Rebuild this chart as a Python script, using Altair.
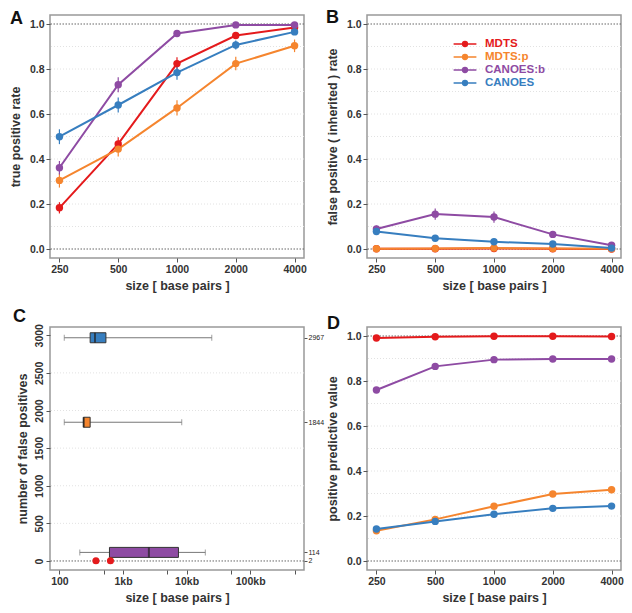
import altair as alt
import pandas as pd

# ---------------- data ----------------
sizes = [250, 500, 1000, 2000, 4000]
methods = ["MDTS", "MDTS:p", "CANOES:b", "CANOES"]
colors = ["#E41A1C", "#F5852E", "#8E4BA3", "#377EBF"]

# panel A: true positive rate
tpr_mdts = [0.183, 0.467, 0.824, 0.949, 0.984]
tpr_mdtsp = [0.305, 0.444, 0.627, 0.824, 0.903]
tpr_canoesb = [0.361, 0.730, 0.958, 0.996, 0.996]
tpr_canoes = [0.499, 0.640, 0.784, 0.907, 0.965]
tpr_err_mdts = [0.025, 0.030, 0.028, 0.012, 0.007]
tpr_err_mdtsp = [0.032, 0.033, 0.034, 0.030, 0.028]
tpr_err_canoesb = [0.030, 0.033, 0.010, 0.004, 0.004]
tpr_err_canoes = [0.033, 0.033, 0.032, 0.020, 0.012]

# panel B: false positive (inherited) rate
fpr_mdts = [0.001, 0.001, 0.002, 0.001, 0.000]
fpr_mdtsp = [0.001, 0.002, 0.004, 0.002, 0.001]
fpr_canoesb = [0.089, 0.155, 0.142, 0.065, 0.017]
fpr_canoes = [0.078, 0.048, 0.032, 0.022, 0.004]
fpr_err_mdts = [0.002, 0.002, 0.002, 0.002, 0.001]
fpr_err_mdtsp = [0.002, 0.002, 0.003, 0.002, 0.001]
fpr_err_canoesb = [0.015, 0.025, 0.025, 0.010, 0.005]
fpr_err_canoes = [0.010, 0.008, 0.006, 0.005, 0.003]

# panel D: positive predictive value
ppv_mdts = [0.991, 0.997, 0.999, 0.999, 0.998]
ppv_mdtsp = [0.134, 0.185, 0.243, 0.298, 0.317]
ppv_canoesb = [0.760, 0.865, 0.895, 0.898, 0.898]
ppv_canoes = [0.142, 0.176, 0.208, 0.234, 0.244]

# panel C: size distribution of false positives (box plots)
box_methods = ["CANOES", "MDTS:p", "CANOES:b"]
box_count = [2967, 1844, 114]
box_lo = [119, 119, 209]
box_q1 = [304, 238, 612]
box_med = [362, 241, 2550]
box_q3 = [538, 304, 7450]
box_hi = [24900, 8390, 19700]
mdts_fp_sizes = [375, 634]
mdts_fp_count = [2, 2]

# axis / grid levels
rate_ticks = [0.0, 0.2, 0.4, 0.6, 0.8, 1.0]
rate_grid = [0.1, 0.2, 0.3, 0.4, 0.5, 0.6, 0.7, 0.8, 0.9]
rate_ref = [0.0, 1.0]
c_yticks = [0, 500, 1000, 1500, 2000, 2500, 3000]
c_grid = [500, 1000, 1500, 2000, 2500]
c_ref = [0]
c_right_ticks = [2967, 1844, 114, 2]
c_xticks = [100, 500, 1000, 5000, 10000, 50000, 100000, 500000]

# ---------------- layout ----------------
W = 254
H = 243
FONT = "Liberation Sans"
cscale = alt.Scale(domain=methods, range=colors)

color_expr = " : ".join(
    f"datum.value == '{m}' ? '{c}'" for m, c in zip(methods, colors)
) + " : '#333'"


def long_df(vals, errs=None):
    rows = []
    for m, v in zip(methods, vals):
        e = errs[methods.index(m)] if errs else [0] * len(sizes)
        for s, y, d in zip(sizes, v, e):
            rows.append({"method": m, "size": s, "value": y, "lo": y - d, "hi": y + d})
    return pd.DataFrame(rows)


def letter_layer(letter, dx, dy):
    return alt.Chart(pd.DataFrame({"label": [letter]})).mark_text(
        font=FONT, fontSize=18, fontWeight="bold", align="left",
        baseline="alphabetic", color="#111"
    ).encode(x=alt.value(dx), y=alt.value(dy), text="label:N")


def rate_panel(df, ytitle, letter, dx, dy, show_err=True, legend=None):
    ys = alt.Scale(domain=[-0.04, 1.04], nice=False, zero=False)
    xs = alt.Scale(type="log", base=2, domain=[223.7, 4471], nice=False)
    xaxis = alt.Axis(values=sizes, format="d", labelAngle=0, title="size [ base pairs ]")
    yaxis = alt.Axis(values=rate_ticks, format=".1f", title=ytitle, titlePadding=7)
    grid = alt.Chart(pd.DataFrame({"level": rate_grid})).mark_rule(
        color="#e2e2e2", strokeDash=[1, 2], strokeWidth=1
    ).encode(y=alt.Y("level:Q", scale=ys, axis=yaxis))
    ref = alt.Chart(pd.DataFrame({"level": rate_ref})).mark_rule(
        color="#666", strokeDash=[1.5, 1.5], strokeWidth=1
    ).encode(y=alt.Y("level:Q", scale=ys, axis=yaxis))
    color = alt.Color("method:N", scale=cscale, legend=legend)
    base = alt.Chart(df)
    lines = base.mark_line(strokeWidth=2).encode(
        x=alt.X("size:Q", scale=xs, axis=xaxis),
        y=alt.Y("value:Q", scale=ys, axis=yaxis), color=color)
    layers = [grid, ref, lines]
    if show_err:
        err = base.mark_rule(strokeWidth=1.2).encode(
            x=alt.X("size:Q", scale=xs, axis=xaxis),
            y=alt.Y("lo:Q", scale=ys, axis=yaxis), y2="hi:Q", color=color)
        layers.append(err)
    pts = base.mark_circle(size=55, opacity=1).encode(
        x=alt.X("size:Q", scale=xs, axis=xaxis),
        y=alt.Y("value:Q", scale=ys, axis=yaxis), color=color)
    layers.append(pts)
    layers.append(letter_layer(letter, dx, dy))
    return alt.layer(*layers).properties(width=W, height=H)


legend_b = alt.Legend(
    title=None, orient="none", legendX=91, legendY=22, padding=0,
    symbolType="M-1.9,0L1.9,0M0.4,0A0.4,0.4,0,1,1,-0.4,0A0.4,0.4,0,1,1,0.4,0Z",
    symbolSize=144, symbolStrokeWidth=1.5, labelFont=FONT,
    labelFontWeight="bold", labelFontSize=11.5, labelOffset=13, rowPadding=0,
    labelColor=alt.ExprRef(color_expr),
    symbolFillColor=alt.ExprRef(color_expr),
    symbolStrokeColor=alt.ExprRef(color_expr),
    symbolOpacity=1,
)

panel_a = rate_panel(long_df([tpr_mdts, tpr_mdtsp, tpr_canoesb, tpr_canoes],
                             [tpr_err_mdts, tpr_err_mdtsp, tpr_err_canoesb, tpr_err_canoes]),
                     "true positive rate", "A", -40, 9)
panel_b = rate_panel(long_df([fpr_mdts, fpr_mdtsp, fpr_canoesb, fpr_canoes],
                             [fpr_err_mdts, fpr_err_mdtsp, fpr_err_canoesb, fpr_err_canoes]),
                     "false positive ( inherited ) rate", "B", -41, 8, legend=legend_b)
panel_d = rate_panel(long_df([ppv_mdts, ppv_mdtsp, ppv_canoesb, ppv_canoes]),
                     "positive predictive value", "D", -40, 2, show_err=False)

# ---------------- panel C ----------------
xs_c = alt.Scale(type="log", domain=[71, 703000], nice=False, padding=0)
ys_c = alt.Scale(domain=[-120, 3110], nice=False, zero=False, padding=0)
xaxis_c = alt.Axis(values=c_xticks, labelAngle=0, labelOverlap=False, title="size [ base pairs ]",
                   labelExpr="datum.value == 100 ? '100' : (datum.value == 1000 || datum.value == 10000 || datum.value == 100000) ? (datum.value / 1000) + 'kb' : ''")
box_df = pd.DataFrame({"method": box_methods, "count": box_count, "lo": box_lo,
                       "q1": box_q1, "med": box_med, "q3": box_q3, "hi": box_hi})
fp_df = pd.DataFrame({"method": ["MDTS"] * len(mdts_fp_sizes),
                      "fp": mdts_fp_sizes, "count": mdts_fp_count})

grid_c = alt.Chart(pd.DataFrame({"level": c_grid})).mark_rule(
    color="#e2e2e2", strokeDash=[1, 2], strokeWidth=1
).encode(y=alt.Y("level:Q", scale=ys_c, title="number of false positives",
                 axis=alt.Axis(values=c_yticks, labelAngle=270, labelAlign="center",
                               labelBaseline="bottom", format="d", titlePadding=5)))
ref_c = alt.Chart(pd.DataFrame({"level": c_ref})).mark_rule(
    color="#666", strokeDash=[1.5, 1.5], strokeWidth=1
).encode(y=alt.Y("level:Q", scale=ys_c, axis=None))
whisk = alt.Chart(box_df).mark_rule(color="#777", strokeWidth=1).encode(
    x=alt.X("lo:Q", scale=xs_c, axis=xaxis_c),
    x2="hi:Q",
    y=alt.Y("count:Q", scale=ys_c,
            axis=alt.Axis(orient="right", values=c_right_ticks, format="d", title=None,
                          labelFontSize=7, labelFontWeight="normal", labelOverlap=False,
                          tickSize=3, labelPadding=1, labelColor="#222")))
cap_lo = alt.Chart(box_df).mark_tick(orient="vertical", size=6, thickness=1, color="#777").encode(
    x=alt.X("lo:Q", scale=xs_c, axis=xaxis_c), y=alt.Y("count:Q", scale=ys_c, axis=None))
cap_hi = alt.Chart(box_df).mark_tick(orient="vertical", size=6, thickness=1, color="#777").encode(
    x=alt.X("hi:Q", scale=xs_c, axis=xaxis_c), y=alt.Y("count:Q", scale=ys_c, axis=None))
boxes = alt.Chart(box_df).mark_bar(orient="horizontal", size=10, stroke="#333", strokeWidth=1).encode(
    x=alt.X("q1:Q", scale=xs_c, axis=xaxis_c), x2="q3:Q",
    y=alt.Y("count:Q", scale=ys_c, axis=None),
    color=alt.Color("method:N", scale=cscale, legend=None))
meds = alt.Chart(box_df).mark_tick(orient="vertical", size=10, thickness=2, color="#222").encode(
    x=alt.X("med:Q", scale=xs_c, axis=xaxis_c), y=alt.Y("count:Q", scale=ys_c, axis=None))
fp_pts = alt.Chart(fp_df).mark_circle(size=50, opacity=1).encode(
    x=alt.X("fp:Q", scale=xs_c, axis=xaxis_c), y=alt.Y("count:Q", scale=ys_c, axis=None),
    color=alt.Color("method:N", scale=cscale, legend=None))

panel_c = alt.layer(grid_c, ref_c, whisk, cap_lo, cap_hi, boxes, meds, fp_pts,
                    letter_layer("C", -37, -5)).resolve_scale(y="independent").properties(width=W, height=H)

chart = alt.concat(
    panel_a, panel_b, panel_c, panel_d, columns=2,
    spacing={"row": 69, "column": 63}, bounds="flush", padding=0,
).resolve_legend(color="independent").configure_view(
    stroke="#999", strokeWidth=1.5
).configure_axis(
    labelFont=FONT, titleFont=FONT, labelFontWeight="bold", titleFontWeight="bold",
    labelFontSize=10.5, titleFontSize=12.5, labelColor="#333", titleColor="#333",
    tickColor="#555", tickSize=4, domain=False, grid=False, labelPadding=2, titlePadding=5,
)

chart.save("out.html", embed_options={"renderer": "svg", "actions": False})
